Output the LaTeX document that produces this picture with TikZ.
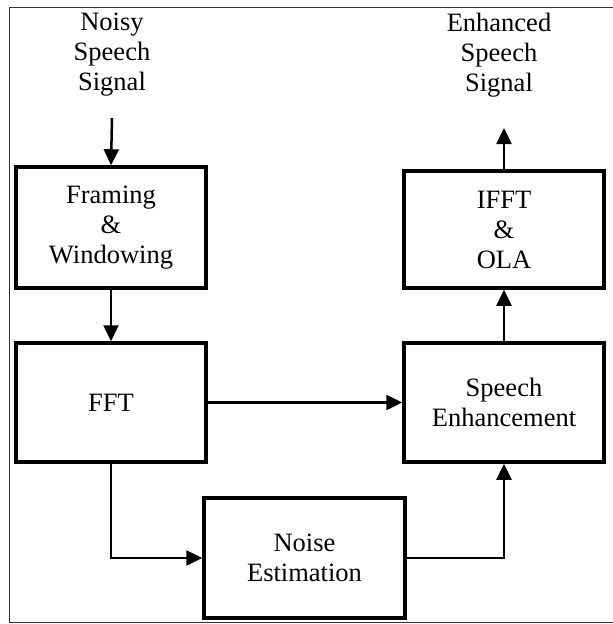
\documentclass[tikz,border=0pt]{standalone}
\usepackage{fontspec}
\setmainfont{Liberation Serif}
\usetikzlibrary{arrows.meta}
\begin{document}
\begin{tikzpicture}[x=1pt,y=-1pt,
  blk/.style={draw,line width=3.5pt,inner sep=0pt,align=center,font=\fontsize{26.5}{30}\selectfont},
  lbl/.style={inner sep=0pt,align=center,font=\fontsize{26.5}{30}\selectfont},
  conn/.style={line width=2.5pt,-{Triangle[length=16pt,width=15pt]}},
  wire/.style={line width=2.5pt}]
\useasboundingbox (0,0) rectangle (613,624);
\draw[line width=1pt,black!80] (620,7.5) -- (9.5,7.5) -- (9.5,622) -- (620,622);
\node[blk,minimum width=190pt,minimum height=121pt] (frm) at (111,227.5) {Framing\\\&\\Windowing};
\node[blk,minimum width=190pt,minimum height=119pt] (fft) at (111,402.5) {FFT};
\node[blk,minimum width=201pt,minimum height=120pt] (ne) at (304.5,558) {Noise\\Estimation};
\node[blk,minimum width=200pt,minimum height=119pt] (se) at (504,402.5) {Speech\\Enhancement};
\node[blk,minimum width=200pt,minimum height=117pt] (ifft) at (504,229.5) {IFFT\\\&\\OLA};
\node[lbl] (in) at (112,55) {Noisy\\Speech\\Signal};
\node[lbl] (out) at (499,55) {Enhanced\\Speech\\Signal};
\coordinate (inS) at (112,118);
\coordinate (outE) at (504,128);
\draw[conn] (inS) -- (frm.north);
\draw[conn] (frm.south) -- (fft.north);
\draw[conn] (fft.east) -- (se.west);
\draw[conn] (fft.south) |- (ne.west);
\draw[conn] (ne.east) -| (se.south);
\draw[conn] (se.north) -- (ifft.south);
\draw[conn] (ifft.north) -- (outE);
\end{tikzpicture}
\end{document}
